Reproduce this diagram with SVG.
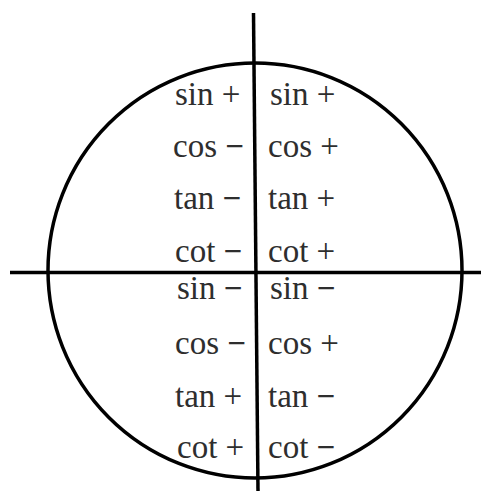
<svg xmlns="http://www.w3.org/2000/svg" width="483" height="492" viewBox="0 0 483 492">
<style>
.ln{stroke:#000;stroke-width:3.5;fill:none}
.t{font-family:"Liberation Serif","Times New Roman",serif;font-size:33px;fill:#2e2e2e}
.m{font-weight:bold}
</style>
<rect width="483" height="492" fill="#fff"/>
<g id="circle"><ellipse class="ln" cx="255" cy="270.5" rx="207" ry="207.5" stroke-width="3"/></g>
<g id="axes">
<line class="ln" x1="253.5" y1="13" x2="258" y2="491"/>
<line class="ln" x1="10" y1="272.5" x2="481" y2="272.5"/>
</g>
<g id="q2" class="t">
<text x="175" y="105">sin +</text>
<text x="173" y="157">cos <tspan class="m">−</tspan></text>
<text x="174" y="209">tan <tspan class="m">−</tspan></text>
<text x="175" y="262">cot <tspan class="m">−</tspan></text>
</g>
<g id="q1" class="t">
<text x="270" y="105">sin +</text>
<text x="268" y="157">cos +</text>
<text x="268" y="209">tan +</text>
<text x="268" y="262">cot +</text>
</g>
<g id="q3" class="t">
<text x="177" y="299">sin <tspan class="m">−</tspan></text>
<text x="175" y="354">cos <tspan class="m">−</tspan></text>
<text x="175" y="407">tan +</text>
<text x="177" y="458">cot +</text>
</g>
<g id="q4" class="t">
<text x="270" y="299">sin <tspan class="m">−</tspan></text>
<text x="268" y="354">cos +</text>
<text x="268" y="407">tan <tspan class="m">−</tspan></text>
<text x="268" y="458">cot <tspan class="m">−</tspan></text>
</g>
</svg>
